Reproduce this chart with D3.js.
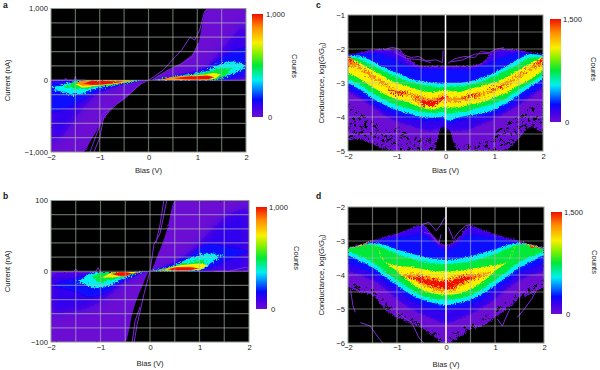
<!DOCTYPE html>
<html>
<head>
<meta charset="utf-8">
<script src="https://cdn.jsdelivr.net/npm/d3@7"></script>
<style>
  html, body { margin: 0; padding: 0; background: #fff; }
  svg { display: block; }
  text { font-family: "Liberation Sans", Arial, sans-serif; font-size: 7.6px; fill: #222; }
  .letter { font-weight: bold; font-size: 8.5px; fill: #111; }
</style>
</head>
<body>
<svg id="fig" width="600" height="370"></svg>
<script>
// level fractions of the colour bar, purple floor up to red ridge
const levels = [0, 0.11, 0.17, 0.36, 0.5, 0.72, 0.87, 1];
const gridBias = [-1.5, -1, -0.5, 0, 0.5, 1, 1.5];
const biasTicks = [-2, -1, 0, 1, 2];

// panel a: current (nA), top and bottom of each count level
const aBias = [-2, -1.75, -1.5, -1.35, -1.15, -0.75, -0.5, -0.25, 0, 0.25, 0.5, 0.75, 1, 1.2, 1.35, 1.5, 1.75, 2];
const aTop = [
  [3, 3, 3, 3, 3, 3, 3, 3, 0, 80, 170, 280, 470, 1000, 1000, 1000, 1000, 1000],
  [-5, -5, -5, -3, -3, -2, -2, -1, 0, 15, 40, 80, 130, 190, 290, 420, 620, 820],
  [-30, -20, -8, -4, -3, -2, -2, -1, 0, 18, 50, 80, 110, 170, 240, 310, 400, 460],
  [-110, -60, -15, -5, -4, -3, -2, -1, 0, 15, 48, 75, 100, 135, 190, 230, 260, 190],
  [-90, -90, -25, -6, -5, -4, -3, -1, 0, 12, 42, 68, 85, 115, 140, 170, 150, 150],
  [-60, -60, -60, -8, -6, -5, -3, -8, 0, 8, 40, 60, 70, 85, 100, 80, 80, 80],
  [-40, -40, -40, -10, -8, -8, -8, -8, 0, 8, 45, 55, 62, 68, 45, 45, 45, 45],
  [-45, -45, -45, -45, -12, -14, -20, -20, 0, 28, 28, 50, 57, 62, 40, 40, 40, 40]
];
const aBot = [
  [-1000, -1000, -1000, -1000, -800, -390, -270, -110, 0, -3, -3, -3, -3, -3, -3, -3, -3, -3],
  [-880, -760, -520, -380, -240, -100, -55, -22, 0, 0, 0, 0, 0, 0, 0, 0, 0, 0],
  [-450, -400, -330, -270, -200, -90, -50, -18, 0, 0, 0, 1, 2, 3, 5, 10, 40, 80],
  [-110, -170, -200, -185, -130, -75, -45, -15, 0, 1, 2, 2, 3, 5, 10, 40, 90, 190],
  [-90, -90, -120, -120, -100, -65, -38, -12, 0, 2, 3, 4, 5, 7, 15, 30, 150, 150],
  [-60, -60, -60, -105, -85, -55, -30, -8, 0, 2, 4, 5, 6, 8, 20, 80, 80, 80],
  [-40, -40, -40, -75, -70, -50, -25, -8, 0, 3, 8, 8, 8, 10, 45, 45, 45, 45],
  [-45, -45, -45, -45, -65, -45, -20, -20, 0, 28, 28, 14, 12, 13, 40, 40, 40, 40]
];
const aTraces = [
  [[-1.12, -1000], [-1, -800], [-0.92, -520], [-0.8, -430], [-0.6, -300], [-0.4, -190], [-0.15, -50], [0, 0]],
  [[-1.2, -1000], [-1.08, -780], [-1, -640], [-0.95, -480], [-0.75, -380]],
  [[0, 0], [0.3, 140], [0.55, 330], [0.68, 420], [0.85, 600], [0.95, 560], [1.05, 700], [1.15, 960], [1.22, 1000]],
  [[0.1, 20], [0.45, 160], [0.7, 240], [0.9, 330], [1.02, 520]],
  [[-2, 2], [-1.72, 2], [-1.7, 30], [-1.68, 2], [-1.52, 2], [-1.5, 60], [-1.48, 2], [-1.3, 2]]
];

// panel b: current (nA)
const bBias = [-2, -1.5, -1.2, -1, -0.8, -0.6, -0.5, -0.35, -0.15, 0, 0.15, 0.35, 0.5, 0.6, 0.8, 1, 1.2, 1.5, 2];
const bTop = [
  [-1, -1, -1, -1, -1, -1, -1, -1, -0.5, 0, 22, 60, 100, 100, 100, 100, 100, 100, 100],
  [-3, -3, -2, -1, -1, -1, -1, -0.5, -0.2, 0, 3, 8, 13, 17, 27, 40, 55, 75, 90],
  [-20, -10, -4, -2, -1, -1, -1, -0.5, -0.2, 0, 2.5, 7, 11, 15, 22, 32, 38, 35, 28],
  [-15, -15, -3, -1.5, -1, -1, -1, -0.5, -0.2, 0, 2, 6, 9, 12, 18, 23, 25, 22, 22],
  [-8, -8, -8, -2, -1.5, -1, -1, -0.8, -0.3, 0, 1.6, 5, 8, 10, 13, 16, 16, 16, 16],
  [-9, -9, -9, -9, -3, -1.5, -1.2, -1, -0.5, 0, 1, 4, 7, 8.5, 10, 11, 8, 8, 8],
  [-4, -4, -4, -4, -4, -1, -1, -3, -0.7, 0, 1, 2.5, 5.5, 6, 6.5, 4, 4, 4, 4],
  [-4, -4, -4, -4, -4, -1.5, -1.5, -3, -0.7, 0, 1, 2.5, 5, 5.5, 5.5, 4, 4, 4, 4]
];
const bBot = [
  [-100, -100, -100, -100, -100, -100, -100, -58, -20, 0, -0.5, -0.5, -0.5, -0.5, -0.5, -0.5, -0.5, -0.5, -0.5],
  [-60, -55, -50, -42, -32, -20, -15, -9, -3, 0, 0, 0, 0, 0, 0, 0, 0, 0, 0],
  [-20, -28, -36, -33, -26, -16, -12, -7, -2, 0, 0.5, 0.5, 0.5, 0.5, 0.7, 1, 5, 15, 28],
  [-15, -15, -22, -24, -19, -12, -9, -5, -1.5, 0, 0.5, 0.5, 0.5, 0.7, 1, 2, 10, 22, 22],
  [-8, -8, -8, -16, -13, -9, -7, -4, -1, 0, 0.5, 0.7, 0.8, 1, 2, 5, 16, 16, 16],
  [-9, -9, -9, -9, -9, -7.5, -5.5, -3, -0.8, 0, 1, 1, 1, 1, 1.5, 2, 8, 8, 8],
  [-4, -4, -4, -4, -4, -7, -7, -3, -0.7, 0, 1, 2.5, 1.2, 1.2, 1.5, 4, 4, 4, 4],
  [-4, -4, -4, -4, -4, -6.5, -6.5, -3, -0.7, 0, 1, 2.5, 1.5, 1.5, 1.8, 4, 4, 4, 4]
];
const bTraces = [
  [[-0.32, -100], [-0.26, -75], [-0.12, -32], [0, 0]],
  [[-0.36, -100], [-0.3, -70], [-0.2, -50]],
  [[0, 0], [0.08, 38], [0.2, 53], [0.34, 100]],
  [[0.28, 100], [0.2, 65], [0.12, 40]],
  [[-2, -1], [-1.55, -1], [-1.5, 3], [-1.45, -1], [-1.1, -1], [-1.05, 5], [-1, -1]],
  [[1.3, 0], [1.6, 0], [1.95, 6], [2, 2]]
];

// panel c: log conductance
const cBias = [-2, -1.75, -1.5, -1.25, -1, -0.75, -0.5, -0.25, -0.05, 0.05, 0.25, 0.5, 0.75, 1, 1.25, 1.5, 1.75, 2];
const cTop = [
  [-2.15, -2.1, -2.02, -2, -2.02, -2.3, -2.5, -2.5, -2.5, -2.5, -2.5, -2.5, -2.4, -2.05, -2, -2.03, -2.1, -2.15],
  [-2.16, -2.12, -2.07, -2.05, -2.1, -2.4, -2.52, -2.52, -2.52, -2.52, -2.52, -2.52, -2.45, -2.1, -2.05, -2.07, -2.12, -2.16],
  [-2.17, -2.15, -2.12, -2.2, -2.35, -2.5, -2.6, -2.6, -2.6, -2.6, -2.6, -2.6, -2.5, -2.35, -2.2, -2.12, -2.15, -2.17],
  [-2.2, -2.22, -2.35, -2.55, -2.7, -2.85, -2.95, -3, -3.02, -3, -3, -2.95, -2.85, -2.7, -2.5, -2.3, -2.15, -2.2],
  [-2.25, -2.3, -2.5, -2.65, -2.82, -2.95, -3.05, -3.1, -3.12, -3.1, -3.1, -3.05, -2.95, -2.8, -2.62, -2.45, -2.25, -2.25],
  [-2.25, -2.42, -2.62, -2.82, -3, -3.1, -3.22, -3.27, -3.22, -3.22, -3.27, -3.18, -3.08, -2.98, -2.82, -2.62, -2.42, -2.22],
  [-2.18, -2.5, -2.76, -2.98, -3.22, -3.28, -3.4, -3.46, -3.32, -3.42, -3.42, -3.34, -3.28, -3.12, -2.98, -2.76, -2.52, -2.24],
  [-2.18, -2.54, -2.8, -3.02, -3.27, -3.32, -3.5, -3.54, -3.36, -3.47, -3.47, -3.38, -3.31, -3.15, -3.02, -2.8, -2.55, -2.26]
];
const cBot = [
  [-5, -5, -5, -5, -5, -5, -5, -5, -5, -5, -5, -5, -5, -5, -5, -5, -5, -5],
  [-3.25, -3.45, -3.7, -3.95, -4.12, -4.25, -4.35, -4.4, -4.3, -4.4, -4.4, -4.35, -4.2, -4.05, -3.85, -3.65, -3.4, -3.15],
  [-3.15, -3.35, -3.6, -3.8, -3.95, -4.05, -4.1, -4.12, -4.1, -4.2, -4.12, -4.05, -4, -3.9, -3.75, -3.5, -3.3, -3.05],
  [-3, -3.2, -3.45, -3.65, -3.8, -3.9, -4, -4.02, -4, -4.1, -4.02, -3.95, -3.9, -3.78, -3.6, -3.35, -3.1, -2.9],
  [-2.9, -3.05, -3.3, -3.5, -3.65, -3.75, -3.85, -3.88, -3.85, -3.9, -3.85, -3.8, -3.7, -3.6, -3.45, -3.2, -3, -2.75],
  [-2.72, -2.88, -3.12, -3.33, -3.48, -3.58, -3.72, -3.78, -3.72, -3.72, -3.72, -3.63, -3.58, -3.43, -3.28, -3.08, -2.88, -2.62],
  [-2.5, -2.6, -2.86, -3.08, -3.32, -3.38, -3.62, -3.7, -3.54, -3.56, -3.56, -3.46, -3.38, -3.22, -3.08, -2.86, -2.62, -2.46],
  [-2.3, -2.54, -2.8, -3.02, -3.32, -3.32, -3.6, -3.68, -3.5, -3.47, -3.47, -3.44, -3.31, -3.2, -3.02, -2.8, -2.55, -2.42]
];
const cVoidTop = [-4.7, -4.65, -4.8, -4.95, -5, -5, -5, -5, -4.15, -4.25, -5, -5, -5, -5, -4.95, -4.65, -4.3, -4.5];
const cSpeckTop = [-3.5, -3.9, -4.1, -4.4, -4.3, -4.5, -4.6, -4.6, -5, -4.7, -4.8, -4.8, -4.7, -4.5, -4.1, -4, -3.7, -3.6];
const cTraces = [
  [[-1.25, -2.02], [-1.1, -1.95], [-0.95, -2], [-0.85, -2.18], [-0.7, -2.25], [-0.55, -2.22], [-0.4, -2.35], [-0.2, -2.32], [-0.06, -2.4], [-0.05, -2.05]],
  [[0.05, -2.42], [0.2, -2.28], [0.4, -2.22], [0.6, -2.25], [0.72, -2.08], [0.9, -2.1], [1.05, -2], [1.2, -1.96]],
  [[-1.05, -2.1], [-0.8, -2.28], [-0.5, -2.32], [-0.3, -2.4]],
  [[0.1, -2.38], [0.35, -2.32], [0.6, -2.15], [0.95, -2.12]]
];

// panel d: log conductance
const dBias = [-2, -1.75, -1.5, -1.25, -1, -0.75, -0.5, -0.25, -0.05, 0.05, 0.25, 0.5, 0.75, 1, 1.25, 1.5, 1.75, 2];
const dTop = [
  [-3.18, -3.1, -2.98, -2.88, -2.78, -2.65, -2.52, -2.85, -3.1, -3.1, -2.9, -2.55, -2.68, -2.8, -2.9, -3, -3.1, -3.18],
  [-3.19, -3.11, -3, -2.9, -2.8, -2.68, -2.55, -2.95, -3.15, -3.15, -2.95, -2.58, -2.7, -2.82, -2.92, -3.02, -3.11, -3.19],
  [-3.2, -3.13, -3.03, -2.95, -2.9, -2.85, -2.8, -3.05, -3.25, -3.25, -3.05, -2.82, -2.87, -2.92, -2.97, -3.05, -3.13, -3.2],
  [-3.22, -3.14, -3.06, -3.12, -3.25, -3.35, -3.45, -3.52, -3.55, -3.55, -3.52, -3.45, -3.35, -3.25, -3.12, -3.06, -3.14, -3.22],
  [-3.23, -3.15, -3.1, -3.22, -3.38, -3.5, -3.6, -3.65, -3.68, -3.68, -3.65, -3.6, -3.5, -3.38, -3.22, -3.1, -3.15, -3.23],
  [-3.22, -3.12, -3.03, -3.6, -3.72, -3.76, -3.82, -3.88, -3.9, -3.9, -3.88, -3.82, -3.76, -3.72, -3.6, -3.04, -3.12, -3.22],
  [-3.2, -3.11, -3.03, -3.9, -3.98, -3.98, -4, -4.08, -4.1, -4.12, -4.03, -3.96, -3.96, -3.9, -3.9, -3.04, -3.11, -3.2],
  [-3.2, -3.12, -3.03, -3.9, -4.05, -4.05, -4.08, -4.15, -4.18, -4.18, -4.08, -4.05, -4.05, -3.9, -3.9, -3.04, -3.12, -3.2]
];
const dBot = [
  [-4.35, -4.5, -4.6, -5, -5.25, -5.4, -5.55, -5.8, -6, -6, -5.85, -5.6, -5.5, -5.25, -5, -4.7, -4.55, -4.35],
  [-3.9, -4, -4.15, -4.4, -4.7, -4.95, -5.15, -5.3, -5.4, -5.4, -5.3, -5.15, -4.95, -4.7, -4.4, -4.15, -4, -3.9],
  [-3.65, -3.8, -3.95, -4.2, -4.45, -4.7, -4.9, -5, -5.05, -5, -4.98, -4.9, -4.7, -4.45, -4.2, -3.95, -3.8, -3.65],
  [-3.42, -3.6, -3.78, -4.05, -4.3, -4.55, -4.72, -4.82, -4.88, -4.88, -4.82, -4.72, -4.55, -4.3, -4.05, -3.78, -3.6, -3.42],
  [-3.3, -3.45, -3.62, -3.9, -4.15, -4.4, -4.6, -4.7, -4.72, -4.72, -4.7, -4.6, -4.4, -4.15, -3.9, -3.62, -3.45, -3.3],
  [-3.22, -3.15, -3.03, -3.6, -3.88, -4.2, -4.42, -4.55, -4.58, -4.58, -4.55, -4.42, -4.2, -3.88, -3.6, -3.04, -3.15, -3.22],
  [-3.2, -3.15, -3.03, -3.9, -3.98, -4.08, -4.27, -4.42, -4.48, -4.48, -4.38, -4.2, -4.02, -3.9, -3.9, -3.04, -3.15, -3.2],
  [-3.2, -3.14, -3.03, -3.9, -4.05, -4.08, -4.2, -4.34, -4.38, -4.42, -4.28, -4.12, -4.05, -3.9, -3.9, -3.04, -3.14, -3.2]
];
const dSpeckTop = [-4.15, -4.3, -4.4, -4.75, -5, -5.2, -5.4, -5.6, -5.8, -5.8, -5.6, -5.4, -5.25, -5, -4.75, -4.45, -4.3, -4.15];
const dTraces = [
  [[-0.5, -2.52], [-0.35, -2.45], [-0.2, -2.7], [-0.12, -2.55], [-0.02, -2.3]],
  [[0.05, -2.6], [0.15, -2.95], [0.25, -2.75], [0.4, -2.55], [0.5, -2.52]],
  [[-0.45, -2.75], [-0.3, -2.8], [-0.15, -3.1], [-0.1, -2.8]],
  [[-1.95, -4.4], [-1.9, -4.9], [-1.85, -5.1]],
  [[-1.75, -5.4], [-1.55, -5.5], [-1.35, -5.9], [-1.28, -6]],
  [[-1, -5.1], [-0.7, -5.4], [-0.55, -5.85], [-0.45, -6]],
  [[1.9, -4.3], [1.75, -4.7], [1.6, -5], [1.45, -5.25]],
  [[1.3, -5], [1.15, -5.5], [1.05, -5.3]]
];

const rainbow = d3.scaleLinear()
  .domain([0, 0.09, 0.17, 0.28, 0.36, 0.5, 0.62, 0.72, 0.87, 1])
  .range(["#6c0cd4", "#4000e8", "#0808ff", "#0090ff", "#00f0f0", "#00e838", "#88f000", "#f8f000", "#ff8c00", "#f01000"]);

const svg = d3.select("#fig");
const defs = svg.append("defs");

const grad = defs.append("linearGradient").attr("id", "bar").attr("x1", 0).attr("x2", 0).attr("y1", 1).attr("y2", 0);
rainbow.domain().forEach(t => grad.append("stop").attr("offset", t).attr("stop-color", rainbow(t)));

function addRough(id, scale, blur, freq) {
  const f = defs.append("filter").attr("id", id)
    .attr("x", "-5%").attr("y", "-5%").attr("width", "110%").attr("height", "110%");
  f.append("feTurbulence").attr("type", "fractalNoise").attr("baseFrequency", freq)
    .attr("numOctaves", 2).attr("seed", 4).attr("result", "n");
  f.append("feDisplacementMap").attr("in", "SourceGraphic").attr("in2", "n")
    .attr("scale", scale).attr("xChannelSelector", "R").attr("yChannelSelector", "G").attr("result", "d");
  f.append("feGaussianBlur").attr("in", "d").attr("stdDeviation", blur);
}
addRough("roughIv", 2, 0.6, 0.8);
addRough("roughG", 4, 0.6, 0.8);
addRough("fleckIv", 7, 0.2, 0.6);
addRough("fleckG", 10, 0.2, 0.6);

function addSoft(id, blur) {
  defs.append("filter").attr("id", id).attr("x", "-20%").attr("y", "-20%").attr("width", "140%").attr("height", "140%")
    .append("feGaussianBlur").attr("stdDeviation", blur);
}
addSoft("soft3", 4);
addSoft("soft1", 1.2);

// black speckle for the sparse low-count part of the conductance maps
const speck = defs.append("filter").attr("id", "speck");
speck.append("feTurbulence").attr("type", "fractalNoise").attr("baseFrequency", 0.28)
  .attr("numOctaves", 3).attr("seed", 9).attr("result", "n");
speck.append("feColorMatrix").attr("in", "n").attr("type", "matrix")
  .attr("values", "0 0 0 0 0 0 0 0 0 0 0 0 0 0 0 14 0 0 0 -8.2").attr("result", "m");
speck.append("feComposite").attr("in", "SourceGraphic").attr("in2", "m").attr("operator", "in");

function panel(p) {
  const x = d3.scaleLinear().domain([-2, 2]).range([p.box[0], p.box[1]]);
  const y = d3.scaleLinear().domain(p.yDomain).range([p.box[3], p.box[2]]);
  const g = svg.append("g");

  g.append("clipPath").attr("id", "clip" + p.name).append("rect")
    .attr("x", p.box[0]).attr("y", p.box[2])
    .attr("width", p.box[1] - p.box[0]).attr("height", p.box[3] - p.box[2]);
  g.append("rect").attr("x", p.box[0]).attr("y", p.box[2])
    .attr("width", p.box[1] - p.box[0]).attr("height", p.box[3] - p.box[2]).attr("fill", "#000");

  const heat = g.append("g").attr("clip-path", "url(#clip" + p.name + ")")
    .append("g").attr("filter", "url(#" + p.rough + ")");
  const area = d3.area().x(d => x(d.b)).y0(d => y(d.lo)).y1(d => y(d.hi)).curve(d3.curveMonotoneX);
  const levelPath = k => area(p.top[k].map((v, i) => ({ b: p.bias[i], hi: v, lo: p.bot[k][i] })));
  const floorArea = tops => area(tops.map((v, i) => ({ b: p.bias[i], hi: v, lo: p.yDomain[0] })));

  // upper levels stay inside the floor level so blur does not leak on black
  g.append("clipPath").attr("id", "floor" + p.name).append("path").attr("d", levelPath(0));
  heat.append("path").attr("d", levelPath(0)).attr("fill", rainbow(levels[0]));
  if (p.speckTop) heat.append("path").attr("d", floorArea(p.speckTop)).attr("fill", "#000").attr("filter", "url(#speck)");
  if (p.voidTop) heat.append("path").attr("d", floorArea(p.voidTop)).attr("fill", "#000");

  const upper = heat.append("g").attr("clip-path", "url(#floor" + p.name + ")");
  d3.range(1, p.top.length).forEach(k => {
    upper.append("path").attr("d", levelPath(k)).attr("fill", rainbow(levels[k]))
      .attr("filter", p.levelFilter[k] ? "url(#" + p.levelFilter[k] + ")" : null);
  });

  const line = d3.line().x(d => x(d[0])).y(d => y(d[1]));
  g.append("g").attr("clip-path", "url(#clip" + p.name + ")")
    .selectAll("path").data(p.traces).join("path")
    .attr("d", line).attr("fill", "none").attr("stroke", "#7c28d8").attr("stroke-width", 1);

  // grid
  const grid = g.append("g").attr("stroke", "#b4c0b4").attr("stroke-opacity", 0.55).attr("stroke-width", 1.2);
  grid.selectAll(".gx").data(gridBias).join("line").attr("class", "gx")
    .attr("x1", d => x(d)).attr("x2", d => x(d)).attr("y1", p.box[2]).attr("y2", p.box[3]);
  grid.selectAll(".gy").data(p.yGrid).join("line").attr("class", "gy")
    .attr("x1", p.box[0]).attr("x2", p.box[1]).attr("y1", d => y(d)).attr("y2", d => y(d));
  g.append("rect").attr("x", p.box[0]).attr("y", p.box[2])
    .attr("width", p.box[1] - p.box[0]).attr("height", p.box[3] - p.box[2])
    .attr("fill", "none").attr("stroke", "#8f9a8f").attr("stroke-width", 1);

  if (p.whiteZero) {
    g.append("line").attr("x1", x(0)).attr("x2", x(0)).attr("y1", p.box[2]).attr("y2", p.box[3])
      .attr("stroke", "#fff").attr("stroke-width", 1.5);
  }

  // axes
  const fmt = v => d3.format(",")(Math.abs(v)).replace(/^/, v < 0 ? "\u2212" : "");
  const ax = g.append("g").attr("transform", "translate(0," + p.box[3] + ")")
    .call(d3.axisBottom(x).tickValues(biasTicks).tickSize(0).tickPadding(p.xPad).tickFormat(fmt));
  const ay = g.append("g").attr("transform", "translate(" + p.box[0] + ",0)")
    .call(d3.axisLeft(y).tickValues(p.yTicks).tickSize(0).tickPadding(3).tickFormat(fmt));
  ax.select(".domain").remove();
  ay.select(".domain").remove();
  g.selectAll(".tick text").attr("font-family", null).attr("font-size", null);

  g.append("text").attr("x", x(0)).attr("y", p.biasY).attr("text-anchor", "middle").text("Bias (V)");
  const yl = g.append("text").attr("text-anchor", "middle")
    .attr("transform", "translate(" + p.yLabelX + "," + y(d3.mean(p.yDomain)) + ") rotate(-90)");
  if (p.whiteZero) {
    yl.append("tspan").text("Conductance, log(");
    yl.append("tspan").attr("font-style", "italic").text("G");
    yl.append("tspan").text("/");
    yl.append("tspan").attr("font-style", "italic").text("G");
    yl.append("tspan").attr("dy", 1.5).style("font-size", "5.5px").text("0");
    yl.append("tspan").attr("dy", -1.5).text(")");
  } else {
    yl.text("Current (nA)");
  }

  // colour bar
  const bar = d3.scaleLinear().domain([0, p.maxCount]).range([p.barBox[3], p.barBox[2]]);
  g.append("rect").attr("x", p.barBox[0]).attr("y", p.barBox[2])
    .attr("width", p.barBox[1] - p.barBox[0]).attr("height", p.barBox[3] - p.barBox[2])
    .attr("fill", "url(#bar)");
  const by = g.append("g").attr("transform", "translate(" + p.barBox[1] + ",0)")
    .call(d3.axisRight(bar).tickValues([0, p.maxCount]).tickSize(0).tickPadding(p.barPad).tickFormat(d3.format(",")));
  by.select(".domain").remove();
  by.selectAll("text").attr("font-family", null).attr("font-size", null);
  by.selectAll(".tick").filter(d => d === 0).select("text").attr("dx", 2);
  g.append("text").attr("text-anchor", "middle")
    .attr("transform", "translate(" + p.countsPos[0] + "," + p.countsPos[1] + ") rotate(90)").text("Counts");

  g.append("text").attr("class", "letter").attr("x", p.letterPos[0]).attr("y", p.letterPos[1]).text(p.name);
}

const ivFilters = [null, "soft3", "soft1", "fleckIv", "fleckIv"];
const gFilters = [null, "soft1", null, null, null, null, "fleckG", "fleckG"];

panel({ name: "a", box: [51, 246, 8.5, 152], yDomain: [-1000, 1000], yTicks: [-1000, 0, 1000],
  yGrid: d3.range(-800, 801, 200), bias: aBias, top: aTop, bot: aBot, traces: aTraces, rough: "roughIv", levelFilter: ivFilters,
  barBox: [252, 263, 14, 117], maxCount: 1000, barPad: 3, countsPos: [292, 66], biasY: 173, yLabelX: 10,
  xPad: 3, letterPos: [3, 8] });
panel({ name: "b", box: [51, 249, 200.5, 342], yDomain: [-100, 100], yTicks: [-100, 0, 100],
  yGrid: d3.range(-80, 81, 20), bias: bBias, top: bTop, bot: bBot, traces: bTraces, rough: "roughIv", levelFilter: ivFilters,
  barBox: [256, 267, 207, 309], maxCount: 1000, barPad: 2, countsPos: [294, 258], biasY: 366, yLabelX: 10,
  xPad: 3, letterPos: [3, 199] });
panel({ name: "c", box: [348, 543, 15, 151], yDomain: [-5, -1], yTicks: [-5, -4, -3, -2, -1],
  yGrid: d3.range(-4.5, -1, 0.5), bias: cBias, top: cTop, bot: cBot, traces: cTraces, voidTop: cVoidTop, speckTop: cSpeckTop, rough: "roughG", levelFilter: gFilters,
  barBox: [550, 561, 19, 122], maxCount: 1500, barPad: 2, countsPos: [591, 69], biasY: 173, yLabelX: 324, whiteZero: true,
  xPad: 3, letterPos: [316, 8] });
panel({ name: "d", box: [348, 544, 207, 343], yDomain: [-6, -2], yTicks: [-6, -5, -4, -3, -2],
  yGrid: d3.range(-5.5, -2, 0.5), bias: dBias, top: dTop, bot: dBot, traces: dTraces, speckTop: dSpeckTop, rough: "roughG", levelFilter: gFilters,
  barBox: [551, 562, 212, 314], maxCount: 1500, barPad: 2, countsPos: [592, 262], biasY: 367, yLabelX: 324, whiteZero: true,
  xPad: 2, letterPos: [316, 199] });
</script>
</body>
</html>
